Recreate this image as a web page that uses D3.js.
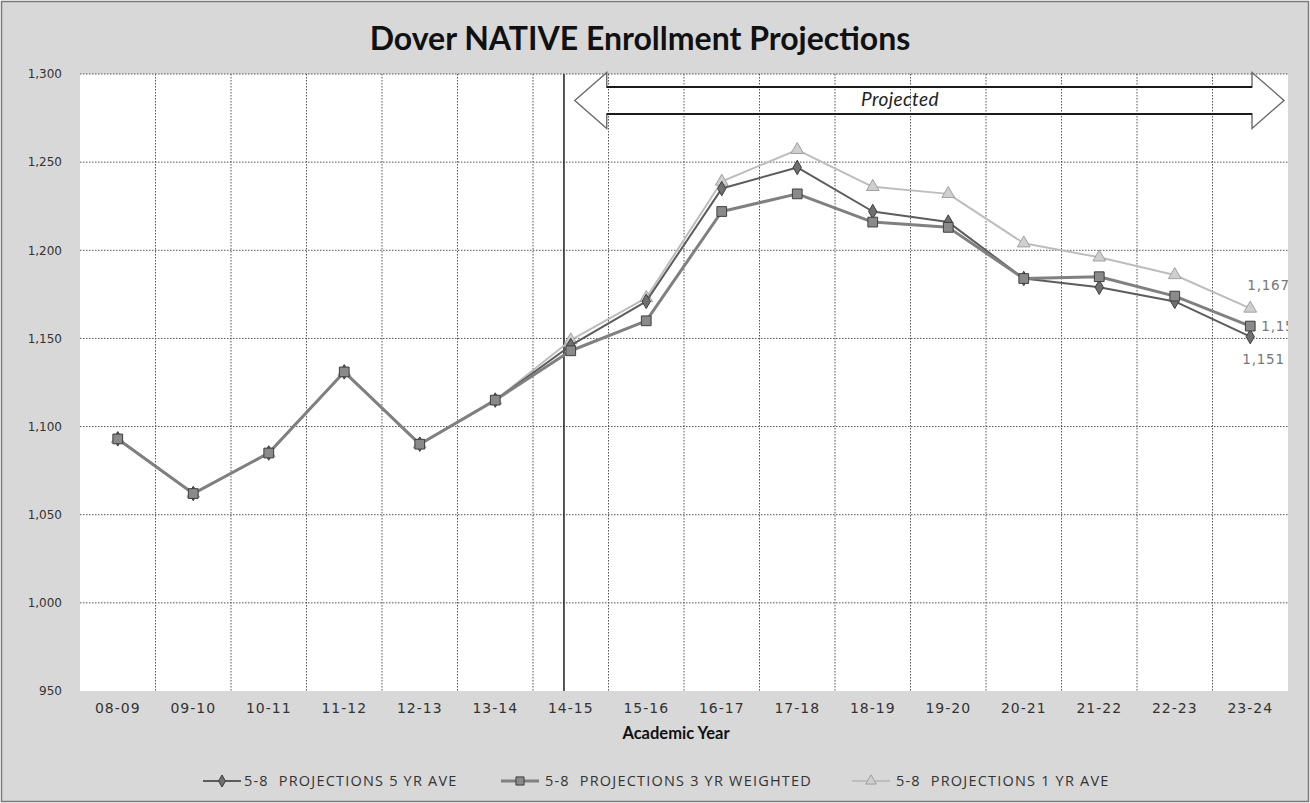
<!DOCTYPE html>
<html>
<head>
<meta charset="utf-8">
<script src="https://cdn.jsdelivr.net/npm/d3@7"></script>
<style>
  html, body { margin: 0; padding: 0; background: #ffffff; }
  svg { display: block; }
</style>
</head>
<body>
<svg id="chart" width="1310" height="803"></svg>
<script>
// Academic years on the x axis
const categories = ["08-09", "09-10", "10-11", "11-12", "12-13", "13-14", "14-15", "15-16",
                    "16-17", "17-18", "18-19", "19-20", "20-21", "21-22", "22-23", "23-24"];

// Grade 5-8 enrollment, one array per projection method
const fiveYrAve       = [1093, 1062, 1085, 1131, 1090, 1115, 1146, 1171, 1235, 1247, 1222, 1216, 1184, 1179, 1171, 1151];
const threeYrWeighted = [1093, 1062, 1085, 1131, 1090, 1115, 1143, 1160, 1222, 1232, 1216, 1213, 1184, 1185, 1174, 1157];
const oneYrAve        = [1093, 1062, 1085, 1131, 1090, 1115, 1149, 1173, 1239, 1257, 1236, 1232, 1204, 1196, 1186, 1167];

const seriesNames = ["5-8  PROJECTIONS 5 YR AVE", "5-8  PROJECTIONS 3 YR WEIGHTED", "5-8  PROJECTIONS 1 YR AVE"];

// Value axis
const yDomain = [950, 1300];
const yTicks = [950, 1000, 1050, 1100, 1150, 1200, 1250, 1300];

const projectionStart = "14-15";
const projectedLabel = "Projected";
const chartTitle = "Dover NATIVE Enrollment Projections";
const xAxisTitle = "Academic Year";

// ---- layout ----
const W = 1310, H = 803;
const plot = { left: 80, right: 1288, top: 74, bottom: 691 };
const tickFont = "'DejaVu Sans', Verdana, sans-serif";
const textFont = "Lato, 'Open Sans', sans-serif";

const svg = d3.select("#chart");

// outer chart background and frame
svg.append("rect")
  .attr("x", 1.5).attr("y", 1.5).attr("width", W - 3).attr("height", H - 3)
  .attr("fill", "#d8d8d8").attr("stroke", "#7a7a7a").attr("stroke-width", 1.5);

// plot background
svg.append("rect")
  .attr("x", plot.left).attr("y", plot.top)
  .attr("width", plot.right - plot.left).attr("height", plot.bottom - plot.top)
  .attr("fill", "#ffffff");

const x = d3.scaleBand().domain(categories).range([plot.left, plot.right]).padding(0);
const y = d3.scaleLinear().domain(yDomain).range([plot.bottom, plot.top]);
const cx = d => x(d) + x.bandwidth() / 2;

// gridlines
const grid = svg.append("g").attr("class", "grid");
grid.selectAll("line.h").data(yTicks.slice(1)).join("line")
  .attr("class", "h")
  .attr("x1", plot.left).attr("x2", plot.right)
  .attr("y1", d => y(d)).attr("y2", d => y(d))
  .attr("stroke", "#555").attr("stroke-width", 1).attr("stroke-dasharray", "1.5,1.5");
grid.selectAll("line.v").data(categories.slice(1)).join("line")
  .attr("class", "v")
  .attr("x1", d => x(d)).attr("x2", d => x(d))
  .attr("y1", plot.top).attr("y2", plot.bottom)
  .attr("stroke", "#555").attr("stroke-width", 1).attr("stroke-dasharray", "1.5,1.5");

// divider where projections begin
const dividerX = x(projectionStart) + x.bandwidth() * 0.41;
svg.append("line")
  .attr("x1", dividerX).attr("x2", dividerX)
  .attr("y1", plot.top).attr("y2", plot.bottom)
  .attr("stroke", "#1e1e1e").attr("stroke-width", 1.5);

// double-headed "Projected" arrow
const arrowMid = y(1285);
const tipL = cx(projectionStart) + 4, tipR = plot.right - 4;
const headLen = 32, headHalf = 28, shaftHalf = 13.5;
const arrowPts = [
  [tipL, arrowMid],
  [tipL + headLen, arrowMid - headHalf],
  [tipL + headLen, arrowMid - shaftHalf],
  [tipR - headLen, arrowMid - shaftHalf],
  [tipR - headLen, arrowMid - headHalf],
  [tipR, arrowMid],
  [tipR - headLen, arrowMid + headHalf],
  [tipR - headLen, arrowMid + shaftHalf],
  [tipL + headLen, arrowMid + shaftHalf],
  [tipL + headLen, arrowMid + headHalf]
];
svg.append("polygon")
  .attr("points", arrowPts.map(p => p.join(",")).join(" "))
  .attr("fill", "none").attr("stroke", "#6a6a6a").attr("stroke-width", 1.4)
  .attr("stroke-linejoin", "miter");
// the long shaft edges are drawn heavier
[arrowMid - shaftHalf, arrowMid + shaftHalf].forEach(yy => {
  svg.append("line")
    .attr("x1", tipL + headLen).attr("x2", tipR - headLen)
    .attr("y1", yy).attr("y2", yy)
    .attr("stroke", "#1a1a1a").attr("stroke-width", 2);
});
svg.append("text")
  .attr("x", 900).attr("y", arrowMid + 6)
  .attr("text-anchor", "middle")
  .attr("font-family", textFont)
  .attr("font-style", "italic").attr("font-size", 19).attr("letter-spacing", 0.4).attr("fill", "#222")
  .text(projectedLabel);

// axes
const yAxis = d3.axisLeft(y).tickValues(yTicks).tickFormat(d3.format(",")).tickSize(0).tickPadding(18);
svg.append("g").attr("transform", `translate(${plot.left},0)`).call(yAxis)
  .call(g => g.select(".domain").remove())
  .call(g => g.selectAll("text").attr("font-family", tickFont)
    .attr("font-size", 12).attr("fill", "#333"));

const xAxis = d3.axisBottom(x).tickSize(0).tickPadding(12);
svg.append("g").attr("transform", `translate(0,${plot.bottom})`).call(xAxis)
  .call(g => g.select(".domain").remove())
  .call(g => g.selectAll("text").attr("font-family", tickFont)
    .attr("font-size", 14).attr("letter-spacing", 1).attr("fill", "#333"));

// titles
svg.append("text")
  .attr("x", 640).attr("y", 50).attr("text-anchor", "middle")
  .attr("font-family", textFont).attr("font-weight", "bold")
  .attr("font-size", 32).attr("fill", "#111")
  .text(chartTitle);
svg.append("text")
  .attr("x", 676).attr("y", 739).attr("text-anchor", "middle")
  .attr("font-family", textFont).attr("font-weight", "bold")
  .attr("font-size", 16.5).attr("fill", "#111")
  .text(xAxisTitle);

// series
const series = [
  { name: seriesNames[2], values: oneYrAve, stroke: "#bdbdbd", width: 2, marker: d3.symbolTriangle, size: 70, fill: "#cfcfcf", mstroke: "#a0a0a0" },
  { name: seriesNames[0], values: fiveYrAve, stroke: "#5c5c5c", width: 2, marker: d3.symbolDiamond, size: 60, fill: "#707070", mstroke: "#3c3c3c" },
  { name: seriesNames[1], values: threeYrWeighted, stroke: "#808080", width: 3, marker: d3.symbolSquare, size: 95, fill: "#8a8a8a", mstroke: "#3f3f3f" }
];

const line = d3.line().x((d, i) => cx(categories[i])).y(d => y(d));
const seriesG = svg.append("g").attr("class", "series");
series.forEach(s => {
  const g = seriesG.append("g");
  g.append("path").datum(s.values)
    .attr("d", line).attr("fill", "none")
    .attr("stroke", s.stroke).attr("stroke-width", s.width).attr("stroke-linejoin", "round");
  g.selectAll("path.pt").data(s.values).join("path")
    .attr("class", "pt")
    .attr("transform", (d, i) => `translate(${cx(categories[i])},${y(d)})`)
    .attr("d", d3.symbol().type(s.marker).size(s.size))
    .attr("fill", s.fill).attr("stroke", s.mstroke).attr("stroke-width", 1);
});

// end-of-series value labels, clipped to the plot area
svg.append("clipPath").attr("id", "plotClip").append("rect")
  .attr("x", plot.left).attr("y", plot.top)
  .attr("width", plot.right - plot.left).attr("height", plot.bottom - plot.top);
const last = categories.length - 1;
const endLabels = [
  { v: oneYrAve[last], dx: -3, dy: -18 },
  { v: threeYrWeighted[last], dx: 11, dy: 5 },
  { v: fiveYrAve[last], dx: -8, dy: 27 }
];
svg.append("g").attr("clip-path", "url(#plotClip)")
  .selectAll("text").data(endLabels).join("text")
  .attr("x", d => cx(categories[last]) + d.dx)
  .attr("y", d => y(d.v) + d.dy)
  .attr("font-family", tickFont).attr("font-size", 13.5).attr("letter-spacing", 0.8)
  .attr("fill", "#777")
  .text(d => d3.format(",")(d.v));

// legend
const legendItems = [
  { name: seriesNames[0], lx: 203, tx: 244, s: series[1] },
  { name: seriesNames[1], lx: 501, tx: 545, s: series[2] },
  { name: seriesNames[2], lx: 852, tx: 896, s: series[0] }
];
const legendY = 781;
const lg = svg.append("g").attr("class", "legend");
legendItems.forEach(it => {
  lg.append("line")
    .attr("x1", it.lx).attr("x2", it.lx + 38)
    .attr("y1", legendY).attr("y2", legendY)
    .attr("stroke", it.s.stroke).attr("stroke-width", it.s.width);
  lg.append("path")
    .attr("transform", `translate(${it.lx + 19},${legendY})`)
    .attr("d", d3.symbol().type(it.s.marker).size(it.s.size * 0.7))
    .attr("fill", it.s.fill).attr("stroke", it.s.mstroke).attr("stroke-width", 1);
  lg.append("text")
    .attr("x", it.tx).attr("y", legendY + 5)
    .attr("font-family", "'Open Sans', sans-serif").attr("font-size", 14.5)
    .attr("letter-spacing", 1.2)
    .attr("fill", "#333")
    .style("white-space", "pre")
    .text(it.name);
});
</script>
</body>
</html>
